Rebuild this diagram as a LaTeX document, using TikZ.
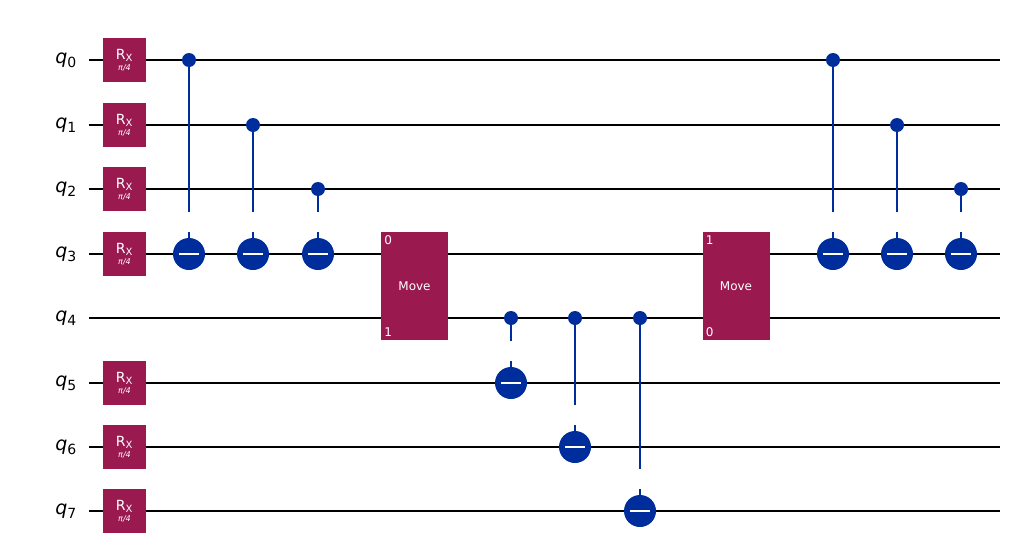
\documentclass[tikz,border=0pt]{standalone}
\usepackage{fontspec}
\setmainfont{DejaVu Sans}
\definecolor{gatered}{HTML}{9A1A50}
\definecolor{cxblue}{HTML}{002D9C}
\tikzset{
  wire/.style={line width=1.6pt,black},
  rxgate/.style={fill=gatered,minimum width=43pt,minimum height=44pt,inner sep=0pt,text=white},
  movegate/.style={fill=gatered,minimum width=67pt,minimum height=108pt,inner sep=0pt,text=white},
  ctrl/.style={circle,fill=cxblue,minimum size=14pt,inner sep=0pt},
  targ/.style={circle,fill=cxblue,minimum size=32pt,inner sep=0pt},
  link/.style={cxblue,line width=2pt}
}
\newcommand{\rxlabel}{\fontsize{14}{14}\selectfont R\textsubscript{\fontsize{10}{10}\selectfont X}\\[-1pt]\fontsize{8}{8}\selectfont\itshape π/4}
\begin{document}
\begin{tikzpicture}[x=1pt,y=-1pt]
\useasboundingbox (0,0) rectangle (1013,560);
% wires and labels
\foreach \i/\yy in {0/60,1/125,2/189,3/254,4/318,5/383,6/447,7/511}{
  \node[font=\fontsize{19}{19}\selectfont] (lab\i) at (66,\yy) {\textit{q}\textsubscript{\fontsize{14}{14}\selectfont\i}};
  \coordinate (w\i) at (89,\yy);
  \coordinate (e\i) at (1000,\yy);
  \draw[wire] (w\i) -- (e\i);
}
% rotations
\foreach \i/\yy in {0/60,1/125,2/189,3/254,5/383,6/447,7/511}
  \node[rxgate,align=center] (rx\i) at (124.5,\yy) {\rxlabel};
% move gates
\node[movegate] (mvA) at (414.5,286) {\fontsize{12}{12}\selectfont Move};
\node[anchor=north west,text=white,font=\fontsize{12}{12}\selectfont] at (mvA.north west) {0};
\node[anchor=south west,text=white,font=\fontsize{12}{12}\selectfont] at (mvA.south west) {1};
\node[movegate] (mvB) at (736,286) {\fontsize{12}{12}\selectfont Move};
\node[anchor=north west,text=white,font=\fontsize{12}{12}\selectfont] at (mvB.north west) {1};
\node[anchor=south west,text=white,font=\fontsize{12}{12}\selectfont] at (mvB.south west) {0};
% cnots
\foreach \n/\xx/\ca/\ta in {a/189/60/254,b/253/125/254,c/318/189/254,d/511/318/383,e/575/318/447,f/640/318/511,g/833/60/254,h/897/125/254,i/961/189/254}{
  \node[ctrl] (c\n) at (\xx,\ca) {};
  \node[targ] (t\n) at (\xx,\ta) {};
  \draw[link] (c\n) -- (t\n.center);
  \draw[white,line width=2.2pt] (t\n.north) ++(0,-6) -- ++(0,-20) (t\n.west) ++(6,0) -- ++(20,0);
}
\end{tikzpicture}
\end{document}
